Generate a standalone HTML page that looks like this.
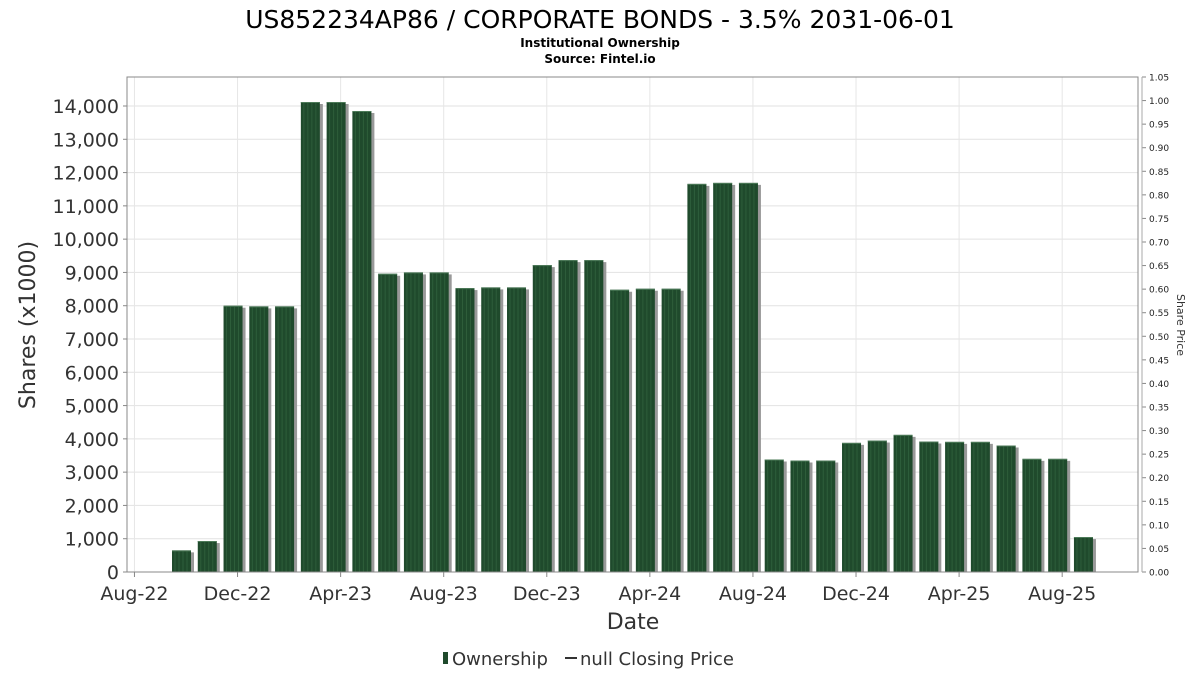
<!DOCTYPE html>
<html><head><meta charset="utf-8"><style>
body{margin:0;background:#fff;font-family:"DejaVu Sans","Liberation Sans",sans-serif}
svg{display:block}
</style></head><body>
<svg id="c" width="1200" height="675" xmlns="http://www.w3.org/2000/svg">
<text x="600" y="28" text-anchor="middle" font-size="25" fill="#000">US852234AP86 / CORPORATE BONDS - 3.5% 2031-06-01</text>
<text x="600" y="47" text-anchor="middle" font-size="12" font-weight="bold">Institutional Ownership</text>
<text x="600" y="63" text-anchor="middle" font-size="12" font-weight="bold">Source: Fintel.io</text>
<g id="grid"></g><g id="bars"></g><g id="axes"></g>
<text x="0" y="0" transform="translate(35,325) rotate(-90)" text-anchor="middle" font-size="22" fill="#333">Shares (x1000)</text>
<text x="0" y="0" transform="translate(1177,325) rotate(90)" text-anchor="middle" font-size="11" fill="#333">Share Price</text>
<text x="633" y="629" text-anchor="middle" font-size="22" fill="#333">Date</text>
<g>
<rect x="443" y="652" width="5" height="12" fill="#1f4a2c"/>
<text x="452" y="665" font-size="18" fill="#333">Ownership</text>
<line x1="565" y1="658" x2="577" y2="658" stroke="#333" stroke-width="2"/>
<text x="580" y="665" font-size="18" fill="#333">null Closing Price</text>
</g>
</svg>
<script>
const months=["Oct-22","Nov-22","Dec-22","Jan-23","Feb-23","Mar-23","Apr-23","May-23","Jun-23","Jul-23","Aug-23","Sep-23","Oct-23","Nov-23","Dec-23","Jan-24","Feb-24","Mar-24","Apr-24","May-24","Jun-24","Jul-24","Aug-24","Sep-24","Oct-24","Nov-24","Dec-24","Jan-25","Feb-25","Mar-25","Apr-25","May-25","Jun-25","Jul-25","Aug-25","Sep-25"];
const shares=[650,930,8000,7980,7980,14120,14120,13850,8960,9000,9000,8530,8550,8550,9220,9370,9370,8480,8510,8510,11660,11690,11690,3380,3350,3350,3880,3950,4120,3920,3910,3910,3800,3400,3400,1050];
const yTicks=[0,1000,2000,3000,4000,5000,6000,7000,8000,9000,10000,11000,12000,13000,14000];
const priceTicks=["0.00","0.05","0.10","0.15","0.20","0.25","0.30","0.35","0.40","0.45","0.50","0.55","0.60","0.65","0.70","0.75","0.80","0.85","0.90","0.95","1.00","1.05"];
const xTickLabels=["Aug-22","Dec-22","Apr-23","Aug-23","Dec-23","Apr-24","Aug-24","Dec-24","Apr-25","Aug-25"];
const xTickIdx=[-2,2,6,10,14,18,22,26,30,34];
const L=127,R=1138,T=77,B=572,NS="http://www.w3.org/2000/svg";
const y=v=>B-v*(B-106)/14000;
const yp=p=>B-p*(B-T)/1.05;
const xc=i=>181.5+i*25.77;
const xt=i=>xc(i)+4.5;
function mk(t,a,p){const e=document.createElementNS(NS,t);for(const k in a)e.setAttribute(k,a[k]);p.appendChild(e);return e;}
const G=document.getElementById('grid'),Bg=document.getElementById('bars'),A=document.getElementById('axes');
yTicks.forEach(v=>{const l=mk('line',{x1:L,x2:R,y1:y(v),y2:y(v),stroke:'#e2e2e2'},G);

const t=mk('text',{x:L-8,y:y(v)+7,'text-anchor':'end','font-size':19,fill:'#333'},A);t.textContent=v.toLocaleString('en-US');

mk('line',{x1:L-4,x2:L,y1:y(v),y2:y(v),stroke:'#888'},A);});
xTickIdx.forEach((ix,k)=>{const x=xt(ix);const g=mk('line',{x1:x,x2:x,y1:T,y2:B,stroke:'#e6e6e6'},G);

mk('line',{x1:x,x2:x,y1:B,y2:B+5,stroke:'#888'},A);
const t=mk('text',{x:x,y:600,'text-anchor':'middle','font-size':19,fill:'#333'},A);t.textContent=xTickLabels[k];
});
priceTicks.forEach(p=>{const v=parseFloat(p);mk('line',{x1:R+4,x2:R+8,y1:yp(v),y2:yp(v),stroke:'#888'},A);
const t=mk('text',{x:R+11,y:yp(v)+3.5,'font-size':9,fill:'#222'},A);t.textContent=p;
});
mk('rect',{x:L,y:T,width:R-L,height:B-T,fill:'none',stroke:'#888'},A);
mk('line',{x1:R+4,x2:R+4,y1:T,y2:B,stroke:'#aaa'},A);
shares.forEach((v,i)=>{const x=xc(i)-9.5,h=B-y(v);
mk('rect',{x:x+3,y:y(v)+2,width:19,height:h-2,fill:'#999'},Bg);
const r=mk('rect',{x:x,y:y(v),width:19,height:h,fill:'#1f4a2c'},Bg);

for(let s=3;s<19;s+=4)mk('line',{x1:x+s,x2:x+s,y1:y(v)+1,y2:B,stroke:'#2e5e3b','stroke-width':1},Bg);
mk('line',{x1:x,x2:x+19,y1:y(v)+0.5,y2:y(v)+0.5,stroke:'#4c7a58'},Bg);});
</script>
</body></html>
